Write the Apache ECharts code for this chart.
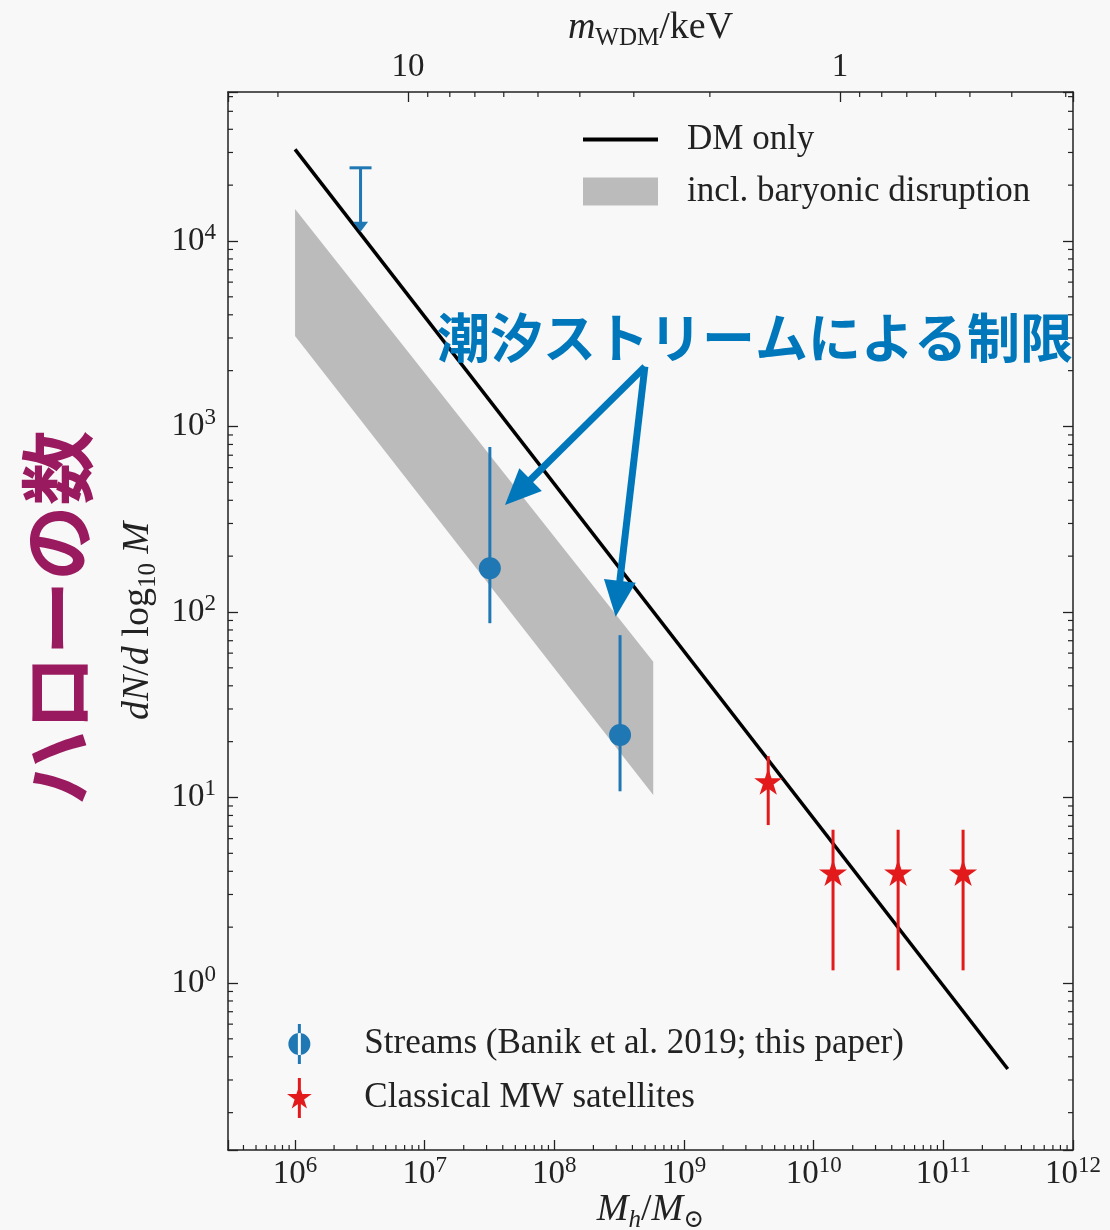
<!DOCTYPE html>
<html>
<head>
<meta charset="utf-8">
<script src="https://cdn.jsdelivr.net/npm/echarts@6/dist/echarts.min.js"></script>
<style>
  html, body { margin: 0; padding: 0; background: #f8f8f8; }
  #chart { width: 1110px; height: 1230px; }
</style>
</head>
<body>
<div id="chart"></div>
<script>
// Axis ranges
const massRange = [3.04e5, 1e12];     // halo mass, M_sun
const countRange = [0.1258, 63550];   // dN / dlog10 M
const wdmRange = [0.2886, 26.1];      // m_WDM in keV (top axis, decreasing to the right)

// DM-only prediction (straight line in log-log)
const dmMass = [1e6, 3.14e11];
const dmCount = [3.12e4, 0.344];

// Range including baryonic disruption
const bandMass = [1e6, 5.79e8];
const bandLow = [3076, 10.3];
const bandHigh = [14880, 54];

// Stream constraints
const streamMass = [3.18e7, 3.21e8];
const streamCount = [172, 21.7];
const streamLow = [87, 10.8];
const streamHigh = [775, 75];

// Stream upper limit
const limitMass = [3.2e6];
const limitTop = [2.48e4];
const limitBottom = [1.12e4];

// Classical Milky Way satellites
const satMass = [4.46e9, 1.41e10, 4.48e10, 1.42e11];
const satCount = [12.2, 3.93, 3.93, 3.93];
const satLow = [7.1, 1.17, 1.17, 1.17];
const satHigh = [16.7, 6.7, 6.7, 6.7];

// Annotation arrows (tail and tip, data coordinates)
const arrowTail = [[4.99e8, 2101], [4.99e8, 2101]];
const arrowTip = [[4.16e7, 377.5], [2.97e8, 94.3]];

const BLUE = '#1f77b4';
const RED = '#e31a1c';
const NOTE = '#0077bb';
const INK = '#222222';
const SERIF = '"Liberation Serif", "DejaVu Serif", serif';

function starPath(cx, cy, R, r) {
  let d = '';
  for (let k = 0; k < 10; k++) {
    const a = -Math.PI / 2 + k * Math.PI / 5;
    const rad = k % 2 === 0 ? R : r;
    d += (k === 0 ? 'M' : 'L') + (cx + rad * Math.cos(a)).toFixed(2) + ',' + (cy + rad * Math.sin(a)).toFixed(2);
  }
  return d + 'Z';
}
const STAR = 'path://' + starPath(10, 10, 10, 3.82);
const STAR_LEGEND = 'path://' + starPath(13, 20, 13, 5) + ' M11.5,0h3v40h-3z';
const DOT_LEGEND = 'path://M9.5,0h3v40h-3z M11,9a11,11 0 1,0 0.001,0z';

function minorTicks(lo, hi) {
  const out = [];
  for (let e = Math.floor(Math.log10(lo)); e <= Math.ceil(Math.log10(hi)); e++) {
    for (let k = 2; k <= 9; k++) {
      const v = k * Math.pow(10, e);
      if (v > lo && v < hi) out.push(v);
    }
  }
  return out;
}

function powLabel(v) {
  const lg = Math.log10(v);
  const e = Math.round(lg);
  if (Math.abs(lg - e) > 1e-6) return '';
  return '{b|10}{p|' + e + '}';
}

const labelRich = {
  b: { fontFamily: SERIF, fontSize: 33, color: INK, lineHeight: 40 },
  p: { fontFamily: SERIF, fontSize: 23, color: INK, lineHeight: 22, verticalAlign: 'top' }
};
const nameRich = {
  i: { fontFamily: SERIF, fontStyle: 'italic', fontSize: 38, color: INK, lineHeight: 46 },
  n: { fontFamily: SERIF, fontSize: 38, color: INK, lineHeight: 46 },
  s: { fontFamily: SERIF, fontSize: 25, color: INK, lineHeight: 24, verticalAlign: 'bottom' },
  si: { fontFamily: SERIF, fontStyle: 'italic', fontSize: 25, color: INK, lineHeight: 24, verticalAlign: 'bottom' }
};

const axisLineStyle = { show: true, onZero: false, lineStyle: { color: INK, width: 1.5 } };
const majorTick = { show: true, inside: true, length: 10, lineStyle: { color: INK, width: 1.3 } };
const tickStyle = { stroke: INK, lineWidth: 1.2 };

const chart = echarts.init(document.getElementById('chart'), null, { renderer: 'canvas' });

chart.setOption({
  animation: false,
  backgroundColor: '#f8f8f8',
  grid: { left: 228, right: 37, top: 92, bottom: 80, outerBoundsMode: 'none', containLabel: false },
  xAxis: [
    {
      type: 'log', logBase: 10, position: 'bottom',
      min: massRange[0], max: massRange[1],
      axisLine: axisLineStyle, axisTick: majorTick, splitLine: { show: false },
      axisLabel: { formatter: powLabel, rich: labelRich, margin: 4, showMinLabel: true, showMaxLabel: true },
      name: '{i|M}{si|h}{n|/}{i|M}{s|⊙}', nameLocation: 'middle', nameGap: 37, nameMoveOverlap: false,
      nameTextStyle: { rich: nameRich }
    },
    {
      type: 'log', logBase: 10, position: 'top', inverse: true,
      min: wdmRange[0], max: wdmRange[1],
      axisLine: axisLineStyle, axisTick: majorTick, splitLine: { show: false },
      axisLabel: {
        margin: 8, fontFamily: SERIF, fontSize: 33, color: INK,
        formatter: function (v) {
          const lg = Math.log10(v), e = Math.round(lg);
          return Math.abs(lg - e) > 1e-6 ? '' : String(Math.round(v));
        }
      },
      name: '{i|m}{s|WDM}{n|/keV}', nameLocation: 'middle', nameGap: 41, nameMoveOverlap: false,
      nameTextStyle: { rich: nameRich }
    }
  ],
  yAxis: [
    {
      type: 'log', logBase: 10, position: 'left',
      min: countRange[0], max: countRange[1],
      axisLine: axisLineStyle, axisTick: majorTick, splitLine: { show: false },
      axisLabel: { formatter: powLabel, rich: labelRich, margin: 12 },
      name: '{i|dN}{n|/}{i|d}{n| log}{s|10}{i| M}', nameLocation: 'middle', nameRotate: 90, nameGap: 62,
      nameTextStyle: { rich: nameRich }
    },
    {
      type: 'log', logBase: 10, position: 'right',
      min: countRange[0], max: countRange[1],
      axisLine: axisLineStyle, axisTick: majorTick, splitLine: { show: false },
      axisLabel: { show: false }
    }
  ],
  legend: [
    {
      orient: 'vertical', left: 578, top: 117, itemWidth: 75, itemHeight: 28, itemGap: 17,
      selectedMode: false,
      textStyle: { fontFamily: SERIF, fontSize: 35, color: INK, padding: [0, 0, 0, 24] },
      data: [
        { name: 'DM only', icon: 'path://M0,0h75v4h-75z' },
        { name: 'incl. baryonic disruption', icon: 'rect' }
      ]
    },
    {
      orient: 'vertical', left: 282, top: 1019, itemWidth: 40, itemHeight: 40, itemGap: 14,
      selectedMode: false,
      textStyle: { fontFamily: SERIF, fontSize: 35, color: INK, padding: [0, 0, 0, 40] },
      data: [
        { name: 'Streams (Banik et al. 2019; this paper)', icon: DOT_LEGEND },
        { name: 'Classical MW satellites', icon: STAR_LEGEND }
      ]
    }
  ],
  graphic: [
    {
      type: 'text', x: 57, y: 618, rotation: Math.PI / 2, z: 100,
      style: {
        text: 'ハローの数', fill: '#991a5e', fontSize: 75, fontWeight: 'bold',
        fontFamily: '"Noto Sans CJK JP"', align: 'center', verticalAlign: 'middle'
      }
    },
    {
      type: 'text', x: 437, y: 338, z: 100,
      style: {
        text: '潮汐ストリームによる制限', fill: NOTE, fontSize: 53, fontWeight: 'bold',
        fontFamily: '"Noto Sans CJK JP"', align: 'left', verticalAlign: 'middle'
      }
    }
  ],
  series: [
    // minor ticks on the mass axis
    {
      type: 'custom', silent: true, xAxisIndex: 0, yAxisIndex: 0, z: 5,
      data: minorTicks(massRange[0], massRange[1]).map(v => [v, 1]),
      renderItem: function (params, api) {
        const r = params.coordSys;
        const x = api.coord([api.value(0), 1])[0];
        return { type: 'line', shape: { x1: x, y1: r.y + r.height, x2: x, y2: r.y + r.height - 5 }, style: tickStyle };
      }
    },
    // minor ticks on the count axes (left and right)
    {
      type: 'custom', silent: true, xAxisIndex: 0, yAxisIndex: 0, z: 5,
      data: minorTicks(countRange[0], countRange[1]).map(v => [1e6, v]),
      renderItem: function (params, api) {
        const r = params.coordSys;
        const y = api.coord([1e6, api.value(1)])[1];
        return {
          type: 'group', children: [
            { type: 'line', shape: { x1: r.x, y1: y, x2: r.x + 5, y2: y }, style: tickStyle },
            { type: 'line', shape: { x1: r.x + r.width, y1: y, x2: r.x + r.width - 5, y2: y }, style: tickStyle }
          ]
        };
      }
    },
    // minor ticks on the WDM mass axis
    {
      type: 'custom', silent: true, xAxisIndex: 1, yAxisIndex: 0, z: 5,
      data: minorTicks(wdmRange[0], wdmRange[1]).map(v => [v, 1]),
      renderItem: function (params, api) {
        const r = params.coordSys;
        const x = api.coord([api.value(0), 1])[0];
        return { type: 'line', shape: { x1: x, y1: r.y, x2: x, y2: r.y + 5 }, style: tickStyle };
      }
    },
    // band including baryonic disruption
    {
      type: 'custom', name: 'incl. baryonic disruption', xAxisIndex: 0, yAxisIndex: 0, z: 1,
      itemStyle: { color: '#bbbbbb' },
      data: bandMass.map((m, i) => [m, bandLow[i], bandHigh[i]]),
      encode: { x: 0, y: [1, 2] },
      renderItem: function (params, api) {
        if (params.dataIndex !== 0) return { type: 'group', children: [] };
        const pts = [];
        for (let i = 0; i < bandMass.length; i++) pts.push(api.coord([bandMass[i], bandHigh[i]]));
        for (let i = bandMass.length - 1; i >= 0; i--) pts.push(api.coord([bandMass[i], bandLow[i]]));
        return { type: 'polygon', shape: { points: pts }, style: { fill: '#bbbbbb' } };
      }
    },
    // DM-only line
    {
      type: 'line', name: 'DM only', xAxisIndex: 0, yAxisIndex: 0, z: 3,
      data: dmMass.map((m, i) => [m, dmCount[i]]),
      symbol: 'none', color: '#000000',
      lineStyle: { color: '#000000', width: 3.5 }
    },
    // stream error bars
    {
      type: 'custom', silent: true, xAxisIndex: 0, yAxisIndex: 0, z: 4,
      data: streamMass.map((m, i) => [m, streamLow[i], streamHigh[i]]),
      encode: { x: 0, y: [1, 2] },
      renderItem: function (params, api) {
        const a = api.coord([api.value(0), api.value(1)]);
        const b = api.coord([api.value(0), api.value(2)]);
        return { type: 'line', shape: { x1: a[0], y1: a[1], x2: b[0], y2: b[1] }, style: { stroke: BLUE, lineWidth: 3 } };
      }
    },
    // stream upper limit
    {
      type: 'custom', silent: true, xAxisIndex: 0, yAxisIndex: 0, z: 4,
      data: limitMass.map((m, i) => [m, limitBottom[i], limitTop[i]]),
      encode: { x: 0, y: [1, 2] },
      renderItem: function (params, api) {
        const lo = api.coord([api.value(0), api.value(1)]);
        const hi = api.coord([api.value(0), api.value(2)]);
        const x = hi[0];
        return {
          type: 'group', children: [
            { type: 'line', shape: { x1: x, y1: hi[1], x2: x, y2: lo[1] - 8 }, style: { stroke: BLUE, lineWidth: 3 } },
            { type: 'line', shape: { x1: x - 11, y1: hi[1], x2: x + 11, y2: hi[1] }, style: { stroke: BLUE, lineWidth: 3 } },
            { type: 'polygon', shape: { points: [[x, lo[1]], [x - 7.5, lo[1] - 10], [x + 7.5, lo[1] - 10]] }, style: { fill: BLUE } }
          ]
        };
      }
    },
    // stream points
    {
      type: 'scatter', name: 'Streams (Banik et al. 2019; this paper)', xAxisIndex: 0, yAxisIndex: 0, z: 6,
      data: streamMass.map((m, i) => [m, streamCount[i]]),
      symbol: 'circle', symbolSize: 22,
      itemStyle: { color: BLUE, opacity: 1 }
    },
    // satellite error bars
    {
      type: 'custom', silent: true, xAxisIndex: 0, yAxisIndex: 0, z: 4,
      data: satMass.map((m, i) => [m, satLow[i], satHigh[i]]),
      encode: { x: 0, y: [1, 2] },
      renderItem: function (params, api) {
        const a = api.coord([api.value(0), api.value(1)]);
        const b = api.coord([api.value(0), api.value(2)]);
        return { type: 'line', shape: { x1: a[0], y1: a[1], x2: b[0], y2: b[1] }, style: { stroke: RED, lineWidth: 3 } };
      }
    },
    // satellite points
    {
      type: 'scatter', name: 'Classical MW satellites', xAxisIndex: 0, yAxisIndex: 0, z: 6,
      data: satMass.map((m, i) => [m, satCount[i]]),
      symbol: STAR, symbolSize: 28, symbolKeepAspect: true,
      itemStyle: { color: RED, opacity: 1 }
    },
    // annotation arrows
    {
      type: 'custom', silent: true, xAxisIndex: 0, yAxisIndex: 0, z: 20,
      data: arrowTail.map((t, i) => [t[0], t[1], arrowTip[i][0], arrowTip[i][1]]),
      encode: { x: [0, 2], y: [1, 3] },
      renderItem: function (params, api) {
        const a = api.coord([api.value(0), api.value(1)]);
        const b = api.coord([api.value(2), api.value(3)]);
        const dx = b[0] - a[0], dy = b[1] - a[1];
        const len = Math.sqrt(dx * dx + dy * dy);
        const ux = dx / len, uy = dy / len, nx = -uy, ny = ux;
        const L = 36, W = 16;
        const bx = b[0] - ux * L, by = b[1] - uy * L;
        return {
          type: 'group', children: [
            { type: 'line', shape: { x1: a[0], y1: a[1], x2: bx + ux * 4, y2: by + uy * 4 }, style: { stroke: NOTE, lineWidth: 7, lineCap: 'butt' } },
            { type: 'polygon', shape: { points: [[b[0], b[1]], [bx + nx * W, by + ny * W], [bx - nx * W, by - ny * W]] }, style: { fill: NOTE } }
          ]
        };
      }
    }
  ]
});
</script>
</body>
</html>
